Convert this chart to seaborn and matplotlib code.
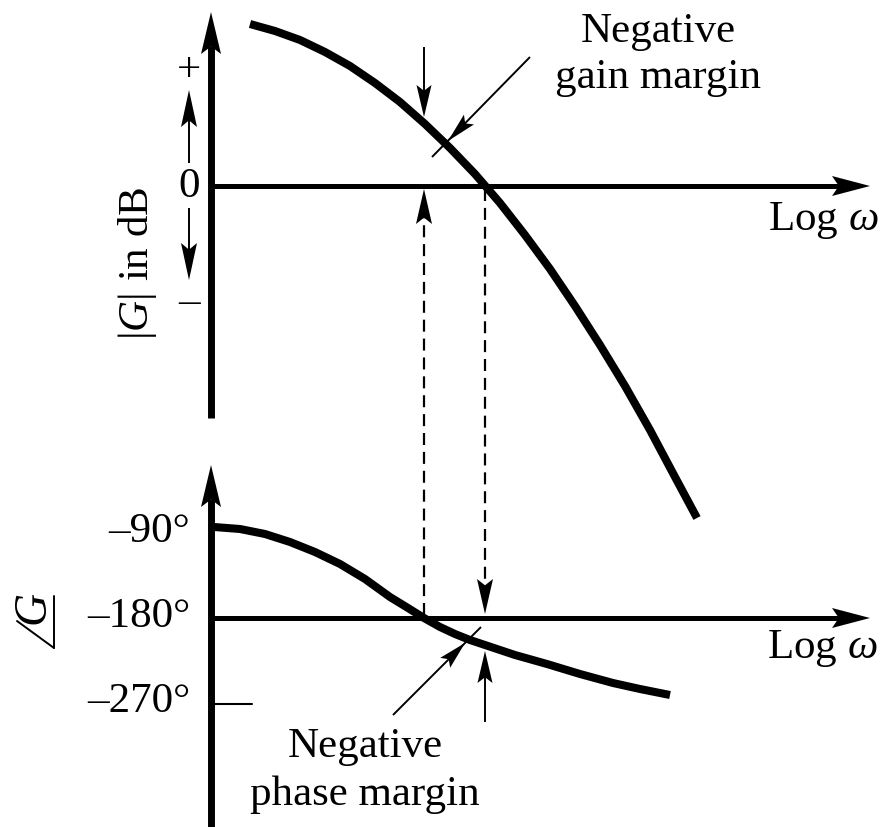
import numpy as np
import matplotlib
matplotlib.use("Agg")
import matplotlib.pyplot as plt
import seaborn as sns

# Magnitude curve |G| (dB) vs log ω, in drawing units (y grows downward)
gain_x = [250, 275, 300, 325, 350, 375, 400, 425, 450, 475, 500, 525, 550,
          575, 600, 625, 650, 675, 697]
gain_y = [24, 31, 40, 52, 66, 83, 102, 124, 148, 174, 203, 235, 269,
          306, 345, 386, 430, 477, 518]

# Phase curve ∠G vs log ω
phase_x = [214, 240, 265, 290, 315, 340, 365, 390, 408, 424, 440, 455, 470,
           485, 515, 547, 580, 613, 640, 670]
phase_y = [527, 529, 534, 542, 552, 564, 579, 597, 608, 618, 627, 634, 640,
           645, 655, 664, 674, 683, 689, 695]

# Axis levels and labels
axis_x = 211
zero_db_y = 186
deg180_y = 618
deg270_y = 704
phase_ticks = ["\u201390\u00b0", "\u2013180\u00b0", "\u2013270\u00b0"]
phase_tick_y = [542, 627, 712]

# Crossover frequencies
phase_cross_x = 424   # ∠G = −180°
gain_cross_x = 485    # |G| = 0 dB

sns.set_theme(style="white")
plt.rcParams["font.family"] = ["Liberation Serif", "DejaVu Serif"]
plt.rcParams["text.color"] = "black"
plt.rcParams["mathtext.fontset"] = "custom"
plt.rcParams["mathtext.rm"] = "Liberation Serif"
plt.rcParams["mathtext.it"] = "Liberation Serif:italic"
plt.rcParams["mathtext.bf"] = "Liberation Serif:bold"

fig = plt.figure(figsize=(8.88, 8.27), dpi=100)
ax = fig.add_axes([0, 0, 1, 1])
ax.set_xlim(0, 888)
ax.set_ylim(827, 0)
ax.axis("off")

K = "black"


def arrow(start, tip, lw, head_len, head_w, tail=None, dashes=None):
    """Shaft from start to tip with a slim filled head; optional tail past the tip."""
    s = np.array(start, float)
    t = np.array(tip, float)
    d = (t - s) / np.hypot(*(t - s))
    n = np.array([-d[1], d[0]])
    back = t - head_len * d
    notch = t - 0.82 * head_len * d
    end = np.array(tail, float) if tail is not None else notch
    if tail is not None:
        ax.plot([s[0], end[0]], [s[1], end[1]], color=K, lw=lw,
                solid_capstyle="butt")
    else:
        kw = dict(color=K, lw=lw, solid_capstyle="butt")
        if dashes is not None:
            kw.update(linestyle=(0, dashes), dash_capstyle="butt")
        ax.plot([s[0], notch[0]], [s[1], notch[1]], **kw)
    head = np.array([t, back + head_w * n, notch, back - head_w * n])
    ax.fill(head[:, 0], head[:, 1], color=K, lw=0, zorder=5)


# Curves
for cx, cy in [(gain_x, gain_y), (phase_x, phase_y)]:
    sns.lineplot(x=cx, y=cy, sort=False, estimator=None, color=K,
                 lw=5.8, ax=ax, solid_capstyle="butt",
                 solid_joinstyle="round")

# Axes of the two panels
arrow((axis_x, 418), (axis_x, 12), 5.0, 42, 10)
arrow((axis_x - 2.5, zero_db_y), (870, zero_db_y), 3.6, 38, 10)
arrow((axis_x, 827), (axis_x, 465), 5.0, 42, 10)
arrow((axis_x - 2.5, deg180_y), (870, deg180_y), 3.6, 38, 10)
ax.plot([axis_x, 252], [deg270_y, deg270_y], color=K, lw=1.5)

# Sign arrows beside the dB axis
arrow((189, 163), (189, 90), 1.4, 37, 8)
arrow((189, 208), (189, 280), 1.4, 37, 8)

# Gain margin markers
arrow((phase_cross_x, 47), (phase_cross_x, 117), 1.4, 32, 7.5)
arrow((530, 57), (448, 141), 1.4, 30, 7, tail=(432, 157))
arrow((phase_cross_x, deg180_y - 3), (phase_cross_x, zero_db_y + 3), 1.6, 35, 8,
      dashes=(5.4, 3.1))

# Phase margin markers
arrow((gain_cross_x, zero_db_y + 3), (gain_cross_x, deg180_y - 4), 1.6, 35, 8,
      dashes=(5.4, 3.1))
arrow((gain_cross_x, 722), (gain_cross_x, 651), 1.4, 32, 7.5)
arrow((393, 715), (465, 643), 1.4, 28, 7, tail=(481, 627))

fs = 31
# Text
ax.text(658, 42, "Negative", ha="center", va="baseline", size=fs)
ax.text(658, 88, "gain margin", ha="center", va="baseline", size=fs)
ax.text(365, 757, "Negative", ha="center", va="baseline", size=fs)
ax.text(365, 805, "phase margin", ha="center", va="baseline", size=fs)
ax.text(768, 230, r"Log $\omega$", ha="left", va="baseline", size=fs)
ax.text(767, 658, r"Log $\omega$", ha="left", va="baseline", size=fs)

ax.text(189, 197, "0", ha="center", va="baseline", size=fs)
ax.text(189, 71, "+", ha="center", va="center", size=fs)
ax.text(189, 303, "\u2013", ha="center", va="center", size=fs)
ax.text(137, 263, r"$|G|$ in dB", ha="center", va="center", rotation=90,
        size=fs)

for lab, yy in zip(phase_ticks, phase_tick_y):
    ax.text(190, yy, lab, ha="right", va="baseline", size=fs)

# Angle label ∠G
ax.text(33, 607, "G", ha="center", va="center", rotation=90, size=fs + 2,
        style="italic")
ax.plot([54, 54], [596, 648], color=K, lw=1.4)
ax.plot([17, 54], [621, 648], color=K, lw=1.4)

fig.savefig("out.png", dpi=100)
